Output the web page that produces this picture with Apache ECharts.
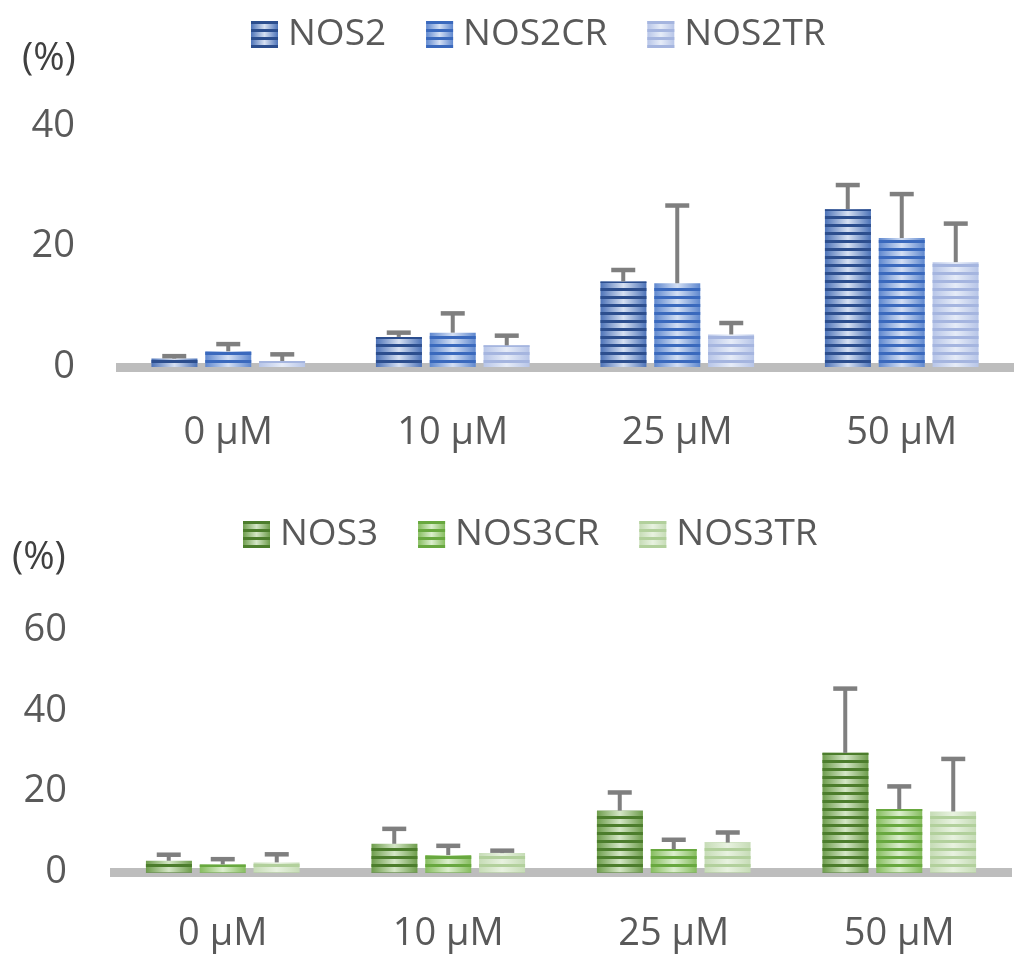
<!DOCTYPE html>
<html>
<head>
<meta charset="utf-8">
<script src="https://cdn.jsdelivr.net/npm/echarts@6/dist/echarts.min.js"></script>
<style>
html,body{margin:0;padding:0;background:#fff;}
#chart{width:1014px;height:957px;}
</style>
</head>
<body>
<div id="chart"></div>
<script>
// ---- data ----
const categories = ['0 µM', '10 µM', '25 µM', '50 µM'];
const nos2Names = ['NOS2', 'NOS2CR', 'NOS2TR'];
const nos3Names = ['NOS3', 'NOS3CR', 'NOS3TR'];
const nos2 = [1.4, 5.0, 14.2, 26.2];
const nos2Err = [0.4, 0.7, 1.9, 4.0];
const nos2cr = [2.6, 5.7, 13.9, 21.4];
const nos2crErr = [1.2, 3.2, 12.9, 7.3];
const nos2tr = [1.0, 3.6, 5.4, 17.4];
const nos2trErr = [1.1, 1.6, 1.9, 6.4];
const nos3 = [2.9, 7.1, 15.3, 29.6];
const nos3Err = [1.5, 3.7, 4.5, 15.9];
const nos3cr = [2.0, 4.3, 5.8, 15.7];
const nos3crErr = [1.3, 2.3, 2.3, 5.6];
const nos3tr = [2.5, 4.8, 7.4, 15.1];
const nos3trErr = [2.0, 0.6, 2.5, 13.0];
const topAxisMax = 40, bottomAxisMax = 60, axisStep = 20;

// ---- styles ----
const FONT = 'Open Sans';
const TXT = '#595959';
const palettes = {
  NOS2:   {edge: '#4d73b8', mid: '#d6e0f2', stripe: '#2c4e8e'},
  NOS2CR: {edge: '#5f88cf', mid: '#d3dff4', stripe: '#3a69bd'},
  NOS2TR: {edge: '#b7c5e8', mid: '#e6ecf8', stripe: '#a5b5df'},
  NOS3:   {edge: '#6e9d4c', mid: '#d4e6c6', stripe: '#4c7d2c'},
  NOS3CR: {edge: '#86bd5f', mid: '#dbeecd', stripe: '#68a83f'},
  NOS3TR: {edge: '#c6dcb6', mid: '#e8f2e0', stripe: '#b2d09c'}
};
function barStyle(name) {
  const p = palettes[name];
  return {
    color: new echarts.graphic.LinearGradient(0, 0, 1, 0, [
      {offset: 0, color: p.edge}, {offset: 0.5, color: p.mid}, {offset: 1, color: p.edge}
    ]),
    decal: {
      symbol: 'rect', symbolSize: 1, color: p.stripe, backgroundColor: null,
      dashArrayX: [[8, 0]], dashArrayY: [3, 4.4], rotation: 0
    }
  };
}
const BAR_W = 46, STEP = 54;

function barSeries(name, values, gi) {
  return {
    name: name, type: 'bar', xAxisIndex: gi, yAxisIndex: gi,
    data: values, barWidth: BAR_W, barGap: '17%',
    itemStyle: barStyle(name), z: 2
  };
}
function errSeries(name, values, errs, gi, pos) {
  return {
    name: name + ' err', type: 'custom', xAxisIndex: gi, yAxisIndex: gi, z: 5,
    data: values.map((v, i) => [i, v, errs[i]]),
    renderItem: function (params, api) {
      const base = api.coord([api.value(0), api.value(1)]);
      const top = api.coord([api.value(0), api.value(1) + api.value(2)]);
      const x = base[0] + pos * STEP;
      return {
        type: 'group', children: [
          {type: 'line', shape: {x1: x, y1: base[1], x2: x, y2: top[1]},
           style: {stroke: '#7f7f7f', lineWidth: 4}},
          {type: 'rect', shape: {x: x - 12, y: top[1] - 2.25, width: 24, height: 4.5},
           style: {fill: '#7f7f7f'}}
        ]
      };
    }
  };
}

const legendText = {fontFamily: FONT, fontSize: 37, color: TXT, padding: [0, 0, 0, 5]};
const chart = echarts.init(document.getElementById('chart'));
chart.setOption({
  animation: false,
  backgroundColor: '#fff',
  textStyle: {fontFamily: FONT},
  legend: [
    {data: nos2Names, left: 246, top: 11, itemWidth: 27, itemHeight: 27, itemGap: 40,
     icon: 'rect', textStyle: legendText},
    {data: nos3Names, left: 238, top: 511, itemWidth: 27, itemHeight: 27, itemGap: 40,
     icon: 'rect', textStyle: legendText}
  ],
  graphic: [
    {type: 'text', left: 22, top: 40, style: {text: '(%)', font: '38px "Open Sans"', fill: '#404040'}},
    {type: 'text', left: 12, top: 539, style: {text: '(%)', font: '38px "Open Sans"', fill: '#404040'}}
  ],
  grid: [
    {left: 116, top: 126, width: 904, height: 241},
    {left: 110, top: 630, width: 902, height: 242.5}
  ],
  xAxis: [0, 1].map(gi => ({
    type: 'category', gridIndex: gi, data: categories,
    axisLine: {lineStyle: {color: '#bdbdbd', width: 9, cap: 'butt'}},
    axisTick: {show: false},
    axisLabel: {fontFamily: FONT, fontSize: 38, color: TXT, margin: gi === 0 ? 47 : 43}
  })),
  yAxis: [0, 1].map(gi => ({
    type: 'value', gridIndex: gi, min: 0, max: gi === 0 ? topAxisMax : bottomAxisMax, interval: axisStep,
    splitLine: {show: false}, axisLine: {show: false}, axisTick: {show: false},
    axisLabel: {fontFamily: FONT, fontSize: 38, color: TXT, margin: gi === 0 ? 41 : 43}
  })),
  series: [
    barSeries('NOS2', nos2, 0), barSeries('NOS2CR', nos2cr, 0), barSeries('NOS2TR', nos2tr, 0),
    barSeries('NOS3', nos3, 1), barSeries('NOS3CR', nos3cr, 1), barSeries('NOS3TR', nos3tr, 1),
    errSeries('NOS2', nos2, nos2Err, 0, -1), errSeries('NOS2CR', nos2cr, nos2crErr, 0, 0),
    errSeries('NOS2TR', nos2tr, nos2trErr, 0, 1),
    errSeries('NOS3', nos3, nos3Err, 1, -1), errSeries('NOS3CR', nos3cr, nos3crErr, 1, 0),
    errSeries('NOS3TR', nos3tr, nos3trErr, 1, 1)
  ]
});
</script>
</body>
</html>
